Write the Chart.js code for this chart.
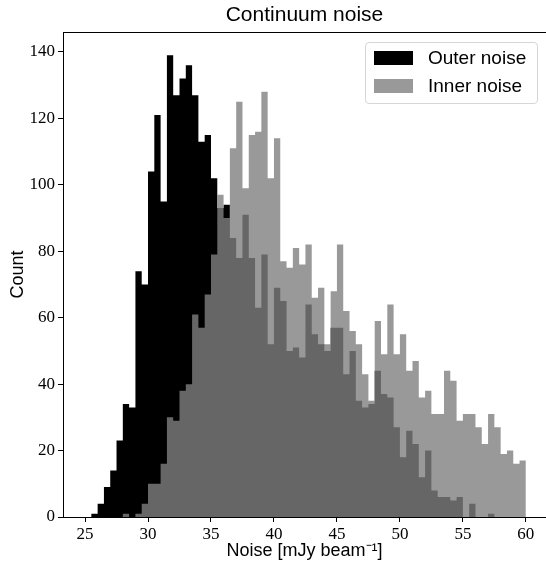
<!DOCTYPE html>
<html>
<head>
<meta charset="utf-8">
<script src="https://cdn.jsdelivr.net/npm/chart.js@4.4.1/dist/chart.umd.min.js"></script>
<style>
    html, body { margin: 0; padding: 0; background: #fff; }
    #wrap { position: relative; width: 546px; height: 568px; }
    #legend {
        position: absolute; left: 365px; top: 42px; width: 173px; height: 62px;
        box-sizing: border-box; border: 1px solid #d6d6d6; border-radius: 4px;
        background: rgba(255, 255, 255, 0.8);
        font-family: "Liberation Sans", Arial, sans-serif; font-size: 19px; color: #000;
    }
    .sw { position: absolute; left: 8px; width: 39px; height: 14px; }
    .lbl { position: absolute; left: 62px; line-height: 22px; white-space: nowrap; }
</style>
</head>
<body>
<div id="wrap">
    <canvas id="noiseChart"></canvas>
    <div id="legend">
        <div class="sw" id="swOuter" style="top: 8px;"></div>
        <div class="lbl" style="top: 4px;">Outer noise</div>
        <div class="sw" id="swInner" style="top: 36px;"></div>
        <div class="lbl" style="top: 32px;">Inner noise</div>
    </div>
</div>
<script>
// Bordes izquierdos de cada bin (ancho 0.5 mJy/beam)
const binStart = [
    25.0, 25.5, 26.0, 26.5, 27.0, 27.5, 28.0, 28.5, 29.0, 29.5,
    30.0, 30.5, 31.0, 31.5, 32.0, 32.5, 33.0, 33.5, 34.0, 34.5,
    35.0, 35.5, 36.0, 36.5, 37.0, 37.5, 38.0, 38.5, 39.0, 39.5,
    40.0, 40.5, 41.0, 41.5, 42.0, 42.5, 43.0, 43.5, 44.0, 44.5,
    45.0, 45.5, 46.0, 46.5, 47.0, 47.5, 48.0, 48.5, 49.0, 49.5,
    50.0, 50.5, 51.0, 51.5, 52.0, 52.5, 53.0, 53.5, 54.0, 54.5,
    55.0, 55.5, 56.0, 56.5, 57.0, 57.5, 58.0, 58.5, 59.0, 59.5
];
const binWidth = 0.5;

const outerNoise = [
    0, 1, 4, 9, 14, 23, 34, 33, 74, 70,
    104, 121, 95, 139, 127, 132, 136, 127, 113, 115,
    102, 93, 94, 84, 78, 91, 78, 63, 79, 52,
    69, 65, 50, 51, 48, 64, 55, 52, 50, 57,
    57, 43, 50, 35, 33, 34, 44, 37, 36, 27,
    18, 26, 22, 12, 20, 8, 6, 6, 5, 6,
    0, 4, 0, 0, 1, 0, 0, 0, 0, 0
];

const innerNoise = [
    0, 0, 0, 0, 0, 0, 1, 0, 1, 4,
    10, 10, 16, 30, 29, 38, 40, 61, 57, 67,
    79, 97, 90, 111, 125, 99, 115, 116, 128, 102,
    114, 77, 75, 81, 76, 82, 66, 69, 52, 68,
    82, 62, 56, 52, 43, 35, 59, 49, 64, 49,
    55, 44, 47, 36, 38, 31, 31, 44, 41, 29,
    31, 31, 27, 22, 31, 27, 19, 20, 16, 17
];

const xTickStep = 5;
const yTickStep = 20;

const colors = {
    outer: '#000000',
    inner: 'rgba(128, 128, 128, 0.8)'
};

// Histograma como escalones rellenos: un punto por borde izquierdo + borde final
function histPoints(counts) {
    const pts = binStart.map((x, i) => ({ x: x, y: counts[i] }));
    pts.push({ x: binStart[binStart.length - 1] + binWidth, y: counts[counts.length - 1] });
    return pts;
}

document.getElementById('swOuter').style.background = colors.outer;
document.getElementById('swInner').style.background = colors.inner;

const yMax = Math.max(...outerNoise, ...innerNoise) * 1.05;

// Marco superior (estilo matplotlib)
const topFrame = {
    id: 'topFrame',
    afterDraw(chart) {
        const a = chart.chartArea, ctx = chart.ctx;
        ctx.save();
        ctx.strokeStyle = '#000';
        ctx.lineWidth = 1;
        ctx.beginPath();
        ctx.moveTo(a.left, Math.round(a.top) + 0.5);
        ctx.lineTo(a.right, Math.round(a.top) + 0.5);
        ctx.stroke();
        ctx.restore();
    }
};

const tickFont = { family: '"Liberation Serif", "DejaVu Serif", serif', size: 17 };
const labelFont = { family: '"Liberation Sans", Arial, sans-serif', size: 18 };

new Chart(document.getElementById('noiseChart'), {
    type: 'line',
    data: {
        datasets: [
            {
                label: 'Outer noise',
                data: histPoints(outerNoise),
                backgroundColor: colors.outer,
                borderColor: 'rgba(0,0,0,0)',
                borderWidth: 0,
                stepped: 'before',
                fill: 'origin',
                pointRadius: 0,
                pointHoverRadius: 0,
                order: 1
            },
            {
                label: 'Inner noise',
                data: histPoints(innerNoise),
                backgroundColor: colors.inner,
                borderColor: 'rgba(0,0,0,0)',
                borderWidth: 0,
                stepped: 'before',
                fill: 'origin',
                pointRadius: 0,
                pointHoverRadius: 0,
                order: 0
            }
        ]
    },
    options: {
        responsive: true,
        maintainAspectRatio: false,
        animation: false,
        layout: { padding: { left: 0, right: 0, top: 0, bottom: 0 } },
        plugins: {
            legend: { display: false },
            tooltip: { enabled: false },
            title: {
                display: true,
                fullSize: false,
                text: 'Continuum noise',
                color: '#000',
                font: { family: '"Liberation Sans", Arial, sans-serif', size: 21, weight: 'normal' },
                padding: { top: 3, bottom: 4 }
            }
        },
        scales: {
            x: {
                type: 'linear',
                min: 23.25,
                max: 61.6,
                afterFit: (scale) => { scale.height = 51; },
                ticks: { stepSize: xTickStep, includeBounds: false, color: '#000', font: tickFont, padding: 2, maxRotation: 0 },
                grid: { drawOnChartArea: false, drawTicks: true, tickLength: 5, tickColor: '#000' },
                border: { display: true, color: '#000', width: 1 },
                title: { display: true, text: 'Noise [mJy beam\u207B\u00B9]', color: '#000', font: labelFont, padding: { top: 0, bottom: 6 } }
            },
            y: {
                min: 0,
                max: yMax,
                afterFit: (scale) => { scale.width = 63; },
                ticks: { stepSize: yTickStep, includeBounds: false, color: '#000', font: tickFont, padding: 3 },
                grid: { drawOnChartArea: false, drawTicks: true, tickLength: 5, tickColor: '#000' },
                border: { display: true, color: '#000', width: 1 },
                title: { display: true, text: 'Count', color: '#000', font: labelFont, padding: { top: 7, bottom: 0 } }
            }
        }
    },
    plugins: [topFrame]
});
</script>
</body>
</html>
